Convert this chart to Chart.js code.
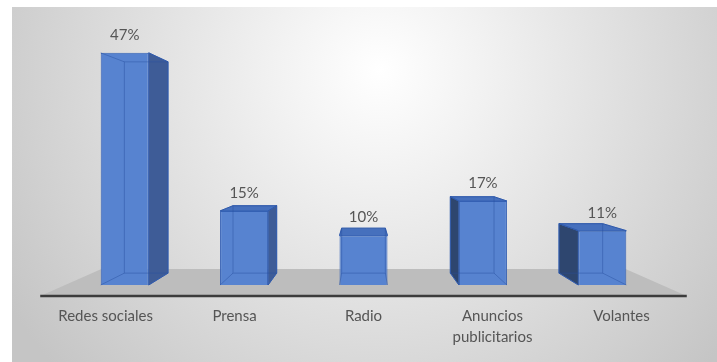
<!DOCTYPE html>
<html><head><meta charset="utf-8">
<script src="https://cdn.jsdelivr.net/npm/chart.js@4"></script>
<style>html,body{margin:0;padding:0;background:#fff;overflow:hidden}</style>
</head><body>
<canvas id="c" width="717" height="362"></canvas>
<script>
// ---- data ----
const categories = ['Redes sociales', 'Prensa', 'Radio', 'Anuncios publicitarios', 'Volantes'];
const tickLabels = [['Redes sociales'], ['Prensa'], ['Radio'], ['Anuncios', 'publicitarios'], ['Volantes']];
const shares = [47, 15, 10, 17, 11];
const valueLabels = ['47%', '15%', '10%', '17%', '11%'];

// ---- 3D look (style constants) ----
const VP_Y = 153;          // eye height (px)
const DEPTH = 0.09;        // bar depth toward vanishing point
const FLOOR_FRONT = -0.083;
const FLOOR_BACK = 0.122;
const PERSP = 1.08;        // category label spread in front of floor

function proj(vp, x, y, s) { return [x + (vp[0] - x) * s, y + (vp[1] - y) * s]; }

const scenePlugin = {
  id: 'scene',
  beforeDraw(chart) {
    const ctx = chart.ctx, W = chart.width, H = chart.height;
    ctx.save();
    ctx.fillStyle = '#ffffff';
    ctx.fillRect(0, 0, W, H);
    const g = ctx.createRadialGradient(380, 70, 0, 380, 70, 440);
    g.addColorStop(0, '#ffffff');
    g.addColorStop(0.25, '#f1f1f1');
    g.addColorStop(1, '#c5c5c5');
    ctx.fillStyle = g;
    ctx.fillRect(12, 7, W - 12, H - 7);
    ctx.restore();
  },
  beforeDatasetsDraw(chart) {
    const ctx = chart.ctx, a = chart.chartArea;
    const base = chart.scales.y.getPixelForValue(0);
    const vp = [(a.left + a.right) / 2, VP_Y];
    const fl = proj(vp, a.left, base, FLOOR_FRONT), fr = proj(vp, a.right, base, FLOOR_FRONT);
    const bl = proj(vp, a.left, base, FLOOR_BACK), br = proj(vp, a.right, base, FLOOR_BACK);
    ctx.save();
    ctx.fillStyle = '#bdbdbd';
    ctx.beginPath();
    ctx.moveTo(fl[0], fl[1]); ctx.lineTo(fr[0], fr[1]); ctx.lineTo(br[0], br[1]); ctx.lineTo(bl[0], bl[1]);
    ctx.closePath(); ctx.fill();
    ctx.strokeStyle = '#3c3c3c'; ctx.lineWidth = 2.5;
    ctx.beginPath(); ctx.moveTo(fl[0], fl[1]); ctx.lineTo(fr[0], fr[1]); ctx.stroke();
    ctx.restore();
  },
  afterDatasetsDraw(chart) {
    const ctx = chart.ctx, a = chart.chartArea;
    const vp = [(a.left + a.right) / 2, VP_Y];
    const meta = chart.getDatasetMeta(0);
    ctx.save();
    meta.data.forEach((bar, i) => {
      const p = bar.getProps(['x', 'y', 'base', 'width'], true);
      const L = p.x - p.width / 2, R = p.x + p.width / 2, T = p.y, B = p.base;
      const [L2, T2] = proj(vp, L, T, DEPTH);
      const [R2, B2] = proj(vp, R, B, DEPTH);
      const quad = (pts, fill) => {
        ctx.beginPath(); ctx.moveTo(pts[0][0], pts[0][1]);
        for (let k = 1; k < pts.length; k++) ctx.lineTo(pts[k][0], pts[k][1]);
        ctx.closePath(); ctx.fillStyle = fill; ctx.fill();
        ctx.strokeStyle = '#3561b4'; ctx.lineWidth = 1; ctx.stroke();
      };
      if (R2 > R) quad([[R, T], [R2, T2], [R2, B2], [R, B]], '#3e5c97');
      if (L2 < L) quad([[L, T], [L2, T2], [L2, B2], [L, B]], '#2e466f');
      if (T2 < T) quad([[L, T], [R, T], [R2, T2], [L2, T2]], '#4670bd');
      // hidden edges seen through the translucent bar
      ctx.strokeStyle = 'rgba(40,80,160,0.45)'; ctx.lineWidth = 1;
      ctx.strokeRect(L2, T2, R2 - L2, B2 - T2);
      ctx.beginPath();
      ctx.moveTo(L, T); ctx.lineTo(L2, T2);
      ctx.moveTo(R, T); ctx.lineTo(R2, T2);
      ctx.moveTo(L, B); ctx.lineTo(L2, B2);
      ctx.moveTo(R, B); ctx.lineTo(R2, B2);
      ctx.stroke();
      // value label
      ctx.fillStyle = '#555555';
      ctx.font = '15px Lato';
      ctx.textAlign = 'center'; ctx.textBaseline = 'middle';
      ctx.fillText(valueLabels[i], p.x, T - 18);
    });
    ctx.restore();
  }
};

const n = categories.length, mid = (n - 1) / 2;
new Chart(document.getElementById('c'), {
  type: 'bar',
  data: {
    labels: categories,
    datasets: [{
      data: shares,
      backgroundColor: '#5783d0',
      borderColor: '#3561b4',
      borderWidth: 1,
      categoryPercentage: 0.402,
      barPercentage: 1
    }]
  },
  options: {
    responsive: false,
    animation: false,
    devicePixelRatio: 1,
    layout: { padding: { left: 65, right: 55, top: 38, bottom: 14 } },
    plugins: { legend: { display: false }, tooltip: { enabled: false } },
    scales: {
      x: { display: false },
      y: { display: false, min: 0, max: 50 },
      xl: {
        type: 'linear', position: 'bottom', offset: false,
        min: mid - (n / 2) / PERSP, max: mid + (n / 2) / PERSP,
        grid: { display: false, drawTicks: false, offset: false },
        border: { display: false },
        afterBuildTicks: ax => { ax.ticks = tickLabels.map((_, i) => ({ value: i })); },
        afterFit: ax => { ax.height = 63; },
        ticks: {
          autoSkip: false, maxRotation: 0, padding: 20, color: '#555555',
          font: { family: 'Lato', size: 15, lineHeight: 1.45 },
          callback: v => tickLabels[v]
        }
      }
    }
  },
  plugins: [scenePlugin]
});
</script>
</body></html>
